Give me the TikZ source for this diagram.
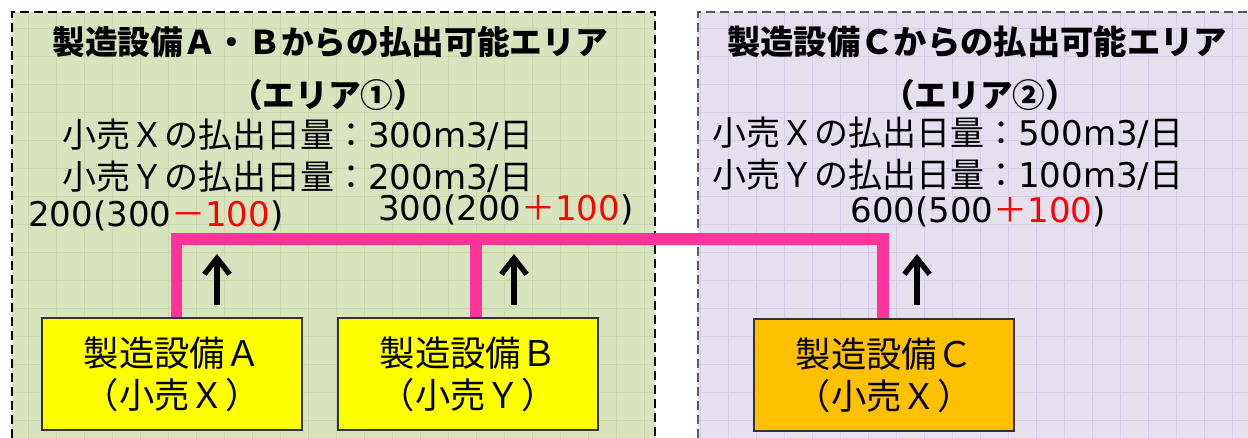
\documentclass[tikz,border=0pt]{standalone}
\usepackage{fontspec}
\setmainfont{Noto Sans CJK JP}
\newfontfamily\lat{DejaVu Sans}
\usetikzlibrary{arrows.meta}
\definecolor{greenbg}{RGB}{215,228,189}
\definecolor{greengrid}{RGB}{200,216,172}
\definecolor{lavbg}{RGB}{229,223,238}
\definecolor{lavgrid}{RGB}{214,206,230}
\definecolor{hotpink}{RGB}{255,51,153}
\definecolor{orangebox}{RGB}{255,192,0}
\definecolor{yellowbox}{RGB}{255,255,0}
\definecolor{redtxt}{RGB}{255,0,0}
\begin{document}
\begin{tikzpicture}[x=0.75pt,y=-0.75pt,
  areaborder/.style={line width=1.9pt,dash pattern=on 6.5pt off 4pt},
  ttl/.style={inner sep=0,font=\fontsize{24.5}{28}\selectfont\bfseries},
  body/.style={inner sep=0,font=\fontsize{25.5}{28}\selectfont},
  boxA/.style={draw=black!80,line width=0.9pt,fill=yellowbox,minimum width=195pt,minimum height=84pt,align=center,inner sep=0,font=\fontsize{26.5}{31.5}\selectfont},
  pinkline/.style={draw=hotpink,line width=8.5pt},
  uparrow/.style={draw=black,line width=4pt,-{Straight Barb[length=12pt,width=19pt,line width=4pt]}},
  gridline/.style={line width=0.4pt}
]
\useasboundingbox (0,0) rectangle (1248,438);
% backgrounds
\fill[white] (0,0) rectangle (1248,438);
\fill[greenbg] (12,12) rectangle (655,438);
\fill[lavbg] (698,12) rectangle (1248,438);
\begin{scope}
\clip (12,12) rectangle (655,438);
\draw[gridline,greengrid,step=21pt] (0,0) grid (700,460);
\end{scope}
\begin{scope}
\clip (698,12) rectangle (1248,438);
\draw[gridline,lavgrid,step=21pt] (690,0) grid (1260,460);
\end{scope}
\draw[areaborder,black] (12,438) -- (12,12) -- (655,12) -- (655,438);
\draw[areaborder,black!65] (698,438) -- (698,12) -- (1250,12);
% texts left
\node[ttl] (t1) at (330,42) {製造設備Ａ・Ｂからの払出可能エリア};
\node[ttl] (t1b) at (328,95) {（エリア①）};
\node[body,anchor=west] (x1) at (62,135) {小売Ｘの払出日量：{\lat 300m3/}日};
\node[body,anchor=west] (y1) at (62,177) {小売Ｙの払出日量：{\lat 200m3/}日};
\node[body,anchor=west] (a1) at (28,216) {{\lat 200(300}\textcolor{redtxt}{－{\lat 100}}{\lat )}};
\node[body,anchor=west] (b1) at (378,210) {{\lat 300(200}\textcolor{redtxt}{＋{\lat 100}}{\lat )}};
% texts right
\node[ttl,font=\fontsize{25}{28}\selectfont\bfseries] (t2) at (977,42) {製造設備Ｃからの払出可能エリア};
\node[ttl] (t2b) at (980,95) {（エリア②）};
\node[body,anchor=west] (x2) at (712,133) {小売Ｘの払出日量：{\lat 500m3/}日};
\node[body,anchor=west] (y2) at (712,175) {小売Ｙの払出日量：{\lat 100m3/}日};
\node[body] (c2) at (978,212) {{\lat 600(500}\textcolor{redtxt}{＋{\lat 100}}{\lat )}};
% boxes
\node[boxA] (A) at (172,374) {製造設備Ａ\\（小売Ｘ）};
\node[boxA] (B) at (468,374) {製造設備Ｂ\\（小売Ｙ）};
\node[boxA,fill=orangebox] (C) at (884,375) {製造設備Ｃ\\（小売Ｘ）};
% pink connectors
\coordinate (pl) at (176.5,239);
\coordinate (pm) at (476,239);
\coordinate (pr) at (883,239);
\draw[pinkline] (A.north -| pl) -- (pl) -- (pr) -- (C.north -| pr);
\draw[pinkline] (B.north -| pm) -- (pm);
% arrows
\coordinate (a1s) at (217,305); \coordinate (a1e) at (217,254);
\coordinate (a2s) at (514,305); \coordinate (a2e) at (514,254);
\coordinate (a3s) at (917,305); \coordinate (a3e) at (917,254);
\draw[uparrow] (a1s) -- (a1e);
\draw[uparrow] (a2s) -- (a2e);
\draw[uparrow] (a3s) -- (a3e);
\end{tikzpicture}
\end{document}
